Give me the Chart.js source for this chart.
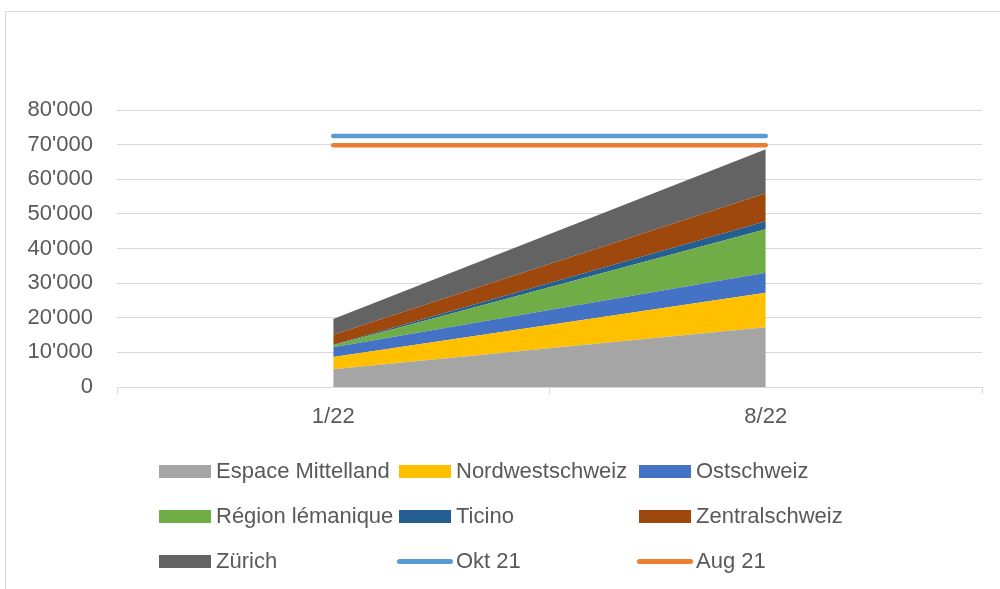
<!DOCTYPE html>
<html><head><meta charset="utf-8">
<script src="https://cdn.jsdelivr.net/npm/chart.js@4/dist/chart.umd.min.js"></script>
<style>
html,body{margin:0;padding:0;background:#fff;overflow:hidden}
#wrap{position:relative;width:1000px;height:589px;overflow:hidden}
#frame{position:absolute;left:5px;top:11px;width:1100px;height:700px;border-top:1.5px solid #d9d9d9;border-left:1.5px solid #d9d9d9}
canvas{position:absolute;left:0;top:0}
#legend{position:absolute;left:0;top:0;width:1000px;height:589px;font:22px "Liberation Sans",Arial,sans-serif;color:#595959}
.item{position:absolute;display:flex;align-items:center;height:30px;white-space:nowrap}
.sw{display:inline-block;width:52px;height:13px;margin-right:5px}
.ln{display:inline-block;width:56px;height:5px;border-radius:3px;margin-left:-2px;margin-right:3px}
</style></head>
<body><div id="wrap"><div id="frame"></div><canvas id="c" width="1000" height="589"></canvas><div id="legend"></div></div>
<script>
const categories = ['1/22', '8/22'];
const espaceMittelland = [5100, 17250];
const nordwestschweiz = [3550, 10000];
const ostschweiz = [2800, 5780];
const regionLemanique = [580, 12530];
const ticino = [170, 2310];
const zentralschweiz = [2890, 8090];
const zuerich = [4540, 12710];
const okt21 = [72500, 72500];
const aug21 = [69800, 69800];
const yTicks = [0, 10000, 20000, 30000, 40000, 50000, 60000, 70000, 80000];

const FONT = '"Liberation Sans", Arial, sans-serif';
const TXT = '#595959';

const areaSeries = [
  ['Espace Mittelland', espaceMittelland, '#A5A5A5'],
  ['Nordwestschweiz', nordwestschweiz, '#FFC000'],
  ['Ostschweiz', ostschweiz, '#4472C4'],
  ['Région lémanique', regionLemanique, '#70AD47'],
  ['Ticino', ticino, '#255E91'],
  ['Zentralschweiz', zentralschweiz, '#9E480E'],
  ['Zürich', zuerich, '#636363']
];
const lineSeries = [
  ['Okt 21', okt21, '#5B9BD5'],
  ['Aug 21', aug21, '#ED7D31']
];

const datasets = [];
areaSeries.forEach((s, i) => {
  datasets.push({
    label: s[0], data: s[1], backgroundColor: s[2], borderColor: s[2],
    borderWidth: 0, pointRadius: 0, tension: 0,
    fill: i === 0 ? 'origin' : '-1', stack: 'areas', order: 1
  });
});
lineSeries.forEach((s, i) => {
  datasets.push({
    label: s[0], data: s[1], borderColor: s[2], backgroundColor: s[2],
    borderWidth: 4.5, borderCapStyle: 'round', pointRadius: 0, tension: 0,
    fill: false, stack: 'line' + i, order: 0
  });
});

const fmt = v => String(v).replace(/\B(?=(\d{3})+(?!\d))/g, "'");

new Chart(document.getElementById('c'), {
  type: 'line',
  data: { labels: categories, datasets },
  options: {
    responsive: false, animation: false,
    layout: { padding: { left: 0, right: 18, top: 110, bottom: 0 } },
    plugins: { legend: { display: false }, tooltip: { enabled: false } },
    scales: {
      x: {
        offset: true,
        grid: { offset: true, drawOnChartArea: false, drawTicks: true, tickLength: 7, color: '#d9d9d9' },
        border: { color: '#d9d9d9' },
        ticks: { font: { family: FONT, size: 22 }, color: TXT, padding: 10 },
        afterFit(s) { s.height = 202; }
      },
      y: {
        stacked: true, min: 0, max: 80000,
        afterBuildTicks(s) { s.ticks = yTicks.map(v => ({ value: v })); },
        ticks: { padding: 24, font: { family: FONT, size: 22 }, color: TXT, callback: v => fmt(v) },
        grid: { color: '#d9d9d9', drawTicks: false },
        border: { display: false },
        afterFit(s) { s.width = 117; }
      }
    }
  }
});

// legend (3 columns)
const leg = document.getElementById('legend');
const colX = [159, 399, 639];
const rowY = [471, 516, 561];
const all = areaSeries.map(s => [s[0], s[2], 'area']).concat(lineSeries.map(s => [s[0], s[2], 'line']));
all.forEach((it, i) => {
  const d = document.createElement('div');
  d.className = 'item';
  d.style.left = colX[i % 3] + 'px';
  d.style.top = (rowY[Math.floor(i / 3)] - 15) + 'px';
  const sw = document.createElement('span');
  sw.className = it[2] === 'area' ? 'sw' : 'ln';
  sw.style.background = it[1];
  d.appendChild(sw);
  const t = document.createElement('span');
  t.textContent = it[0];
  d.appendChild(t);
  leg.appendChild(d);
});
</script>
</body></html>
